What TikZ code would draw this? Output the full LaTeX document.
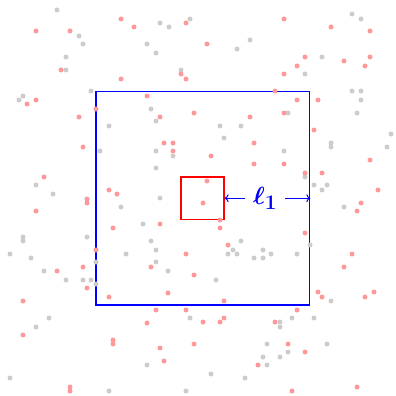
\documentclass[tikz,border=0pt]{standalone}
\usepackage{xcolor}
\usepackage{tikz}
\usetikzlibrary{arrows.meta, positioning}
\usepackage{amsmath}
\definecolor{ptgray}{RGB}{204,204,204}
\definecolor{ptred}{RGB}{255,153,153}
\definecolor{boxblue}{RGB}{0,0,255}
\definecolor{boxred}{RGB}{255,0,0}

\begin{document}
\begin{tikzpicture}[
  x=1pt, y=-1pt,
  region/.style={rectangle, draw=#1, line width=1.7pt, inner sep=0pt},
  dot/.style={fill=#1},
  sidelbl/.style={font=\fontsize{30}{36}\selectfont\boldmath, text=boxblue, inner sep=8pt},
  sidearr/.style={-{To[length=4pt,width=8pt]}, boxblue, line width=1pt},
]
  \useasboundingbox (0,0) rectangle (396,396);

  % Regions
  \node[region=boxblue, minimum size=213.5pt] (outer) at (202.75,198.25) {};
  \node[region=boxred, minimum size=42.5pt]   (inner) at (202.5,198.25) {};

  % Points
  \foreach \x/\y in {57/10,160/23,169/27,190/19,79/36,83/44,147/44,156/53,66/57,66/70,
      181/70,91/91,23/96,19/100,151/109,156/121,109/126,100/151,156/151,173/156,
      156/168,36/185,53/194,160/198,352/14,361/19,237/49,250/40,322/57,305/74,
      352/91,361/91,361/100,357/113,288/113,220/126,241/126,224/138,331/143,331/147,
      391/134,387/147,284/151,305/177,314/185,327/185,322/190,121/207,143/224,23/237,
      23/241,87/237,151/241,156/250,10/254,31/258,126/254,96/262,156/262,44/271,
      66/280,83/280,91/280,96/284,168/271,190/318,49/318,36/327,147/365,10/378,
      109/391,186/391,344/207,241/241,233/250,228/254,237/254,263/250,254/258,263/258,
      271/254,297/254,310/245,216/280,331/301,292/318,314/318,280/322,280/327,267/344,
      327/344,288/352,263/357,280/357,267/365,211/374,245/378}
    \fill[dot=ptgray] (\x,\y) circle (2.5pt);
  \foreach \x/\y in {121/19,134/27,186/23,36/31,70/31,61/70,121/79,181/74,186/79,36/100,
      27/104,147/96,96/109,79/117,160/117,194/113,83/147,164/143,173/143,173/151,
      44/177,109/190,117/194,87/199,284/19,331/27,370/31,207/44,305/57,297/66,
      344/61,370/57,365/66,284/74,275/91,297/100,318/100,284/113,250/117,314/130,
      254/143,211/156,254/164,284/164,305/173,322/173,207/181,370/160,378/190,87/203,
      36/211,113/228,160/224,96/250,186/254,57/271,83/267,151/267,194/275,87/288,
      168/293,109/297,23/301,156/310,186/310,147/323,23/335,113/340,113/344,160/348,
      194/344,164/361,70/387,70/391,203/203,361/203,357/211,220/220,220/228,305/233,
      228/245,352/254,344/267,318/292,322/297,365/297,374/292,224/301,297/310,224/318,
      203/322,220/322,275/322,288/344,305/352,258/365,292/391,357/387}
    \fill[dot=ptred] (\x,\y) circle (2.5pt);

  % Side length
  \node[sidelbl] (side) at (265,198.25) {$\ell_1$};
  \draw[sidearr] (side) -- (inner.east);
  \draw[sidearr] (side) -- (outer.east);
\end{tikzpicture}
\end{document}
